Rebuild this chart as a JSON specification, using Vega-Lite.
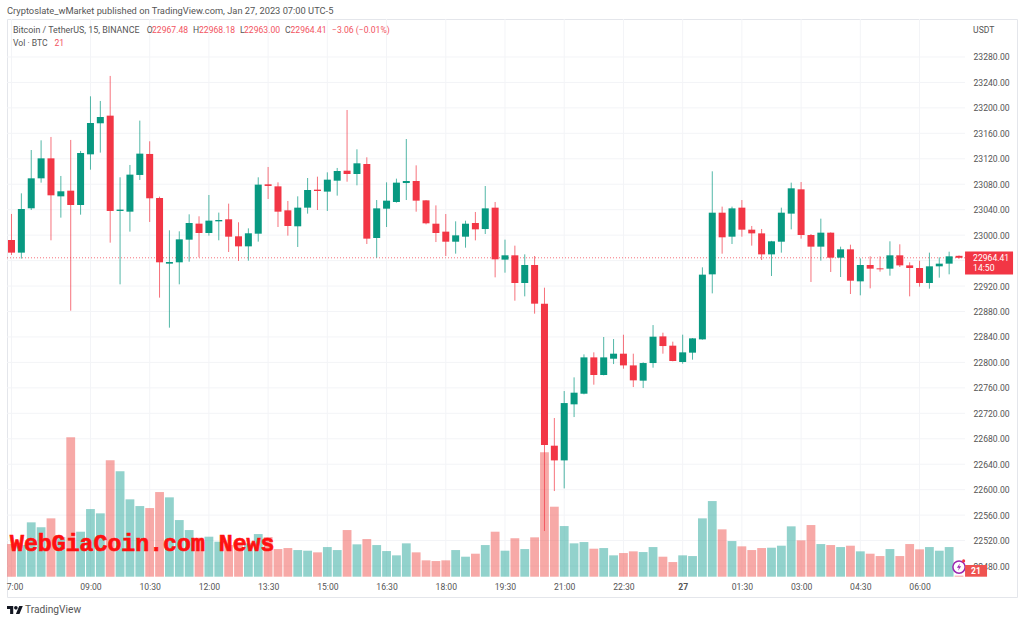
{
"$schema":"https://vega.github.io/schema/vega-lite/v6.json",
"width":1010,"height":578,"autosize":{"type":"none"},
"padding":{"left":7,"top":19,"right":7,"bottom":26},
"background":"#ffffff",
"view":{"stroke":"#e4e6eb"},
"title":{"text":"Cryptoslate_wMarket published on TradingView.com, Jan 27, 2023 07:00 UTC-5","anchor":"start","frame":"group","font":"Roboto","fontSize":9.3,"fontWeight":"normal","color":"#555555","offset":2},
"config":{"text":{"font":"Roboto","fontSize":8.6,"align":"left","baseline":"middle","color":"#555555"}},
"datasets":{
"candles":[
{"t":"2023-01-26T07:00:00Z","o":22992.4,"h":23033.3,"l":22968.8,"c":22972.5,"v":653},
{"t":"2023-01-26T07:15:00Z","o":22972.5,"h":23065.7,"l":22963.1,"c":23041.1,"v":633},
{"t":"2023-01-26T07:30:00Z","o":23042.2,"h":23133.8,"l":23039.5,"c":23089.3,"v":1087},
{"t":"2023-01-26T07:45:00Z","o":23089.3,"h":23149.0,"l":23082.5,"c":23120.7,"v":987},
{"t":"2023-01-26T08:00:00Z","o":23120.7,"h":23154.3,"l":22991.9,"c":23062.6,"v":1167},
{"t":"2023-01-26T08:15:00Z","o":23061.0,"h":23093.0,"l":23027.5,"c":23068.9,"v":793},
{"t":"2023-01-26T08:30:00Z","o":23069.9,"h":23149.6,"l":22881.3,"c":23047.4,"v":2787},
{"t":"2023-01-26T08:45:00Z","o":23047.4,"h":23132.3,"l":23032.2,"c":23129.1,"v":900},
{"t":"2023-01-26T09:00:00Z","o":23127.0,"h":23218.2,"l":23102.9,"c":23176.3,"v":1353},
{"t":"2023-01-26T09:15:00Z","o":23175.8,"h":23210.9,"l":23129.7,"c":23185.7,"v":1267},
{"t":"2023-01-26T09:30:00Z","o":23187.8,"h":23250.2,"l":22988.2,"c":23038.0,"v":2327},
{"t":"2023-01-26T09:45:00Z","o":23038.0,"h":23090.9,"l":22922.7,"c":23040.1,"v":2107},
{"t":"2023-01-26T10:00:00Z","o":23036.9,"h":23110.3,"l":23005.5,"c":23095.1,"v":1547},
{"t":"2023-01-26T10:15:00Z","o":23094.6,"h":23180.0,"l":23086.7,"c":23128.1,"v":1413},
{"t":"2023-01-26T10:30:00Z","o":23127.6,"h":23147.5,"l":23020.7,"c":23057.9,"v":1373},
{"t":"2023-01-26T10:45:00Z","o":23058.4,"h":23060.5,"l":22901.8,"c":22957.3,"v":1693},
{"t":"2023-01-26T11:00:00Z","o":22955.2,"h":23007.6,"l":22854.6,"c":22957.8,"v":1587},
{"t":"2023-01-26T11:15:00Z","o":22957.3,"h":23006.0,"l":22922.7,"c":22993.4,"v":1133},
{"t":"2023-01-26T11:30:00Z","o":22992.9,"h":23032.7,"l":22958.3,"c":23019.1,"v":933},
{"t":"2023-01-26T11:45:00Z","o":23018.1,"h":23029.6,"l":22965.2,"c":23003.4,"v":780},
{"t":"2023-01-26T12:00:00Z","o":23003.4,"h":23063.1,"l":22999.2,"c":23022.8,"v":800},
{"t":"2023-01-26T12:15:00Z","o":23021.7,"h":23035.4,"l":22991.9,"c":23023.8,"v":700},
{"t":"2023-01-26T12:30:00Z","o":23024.9,"h":23049.5,"l":22973.5,"c":22997.6,"v":633},
{"t":"2023-01-26T12:45:00Z","o":22998.2,"h":23020.2,"l":22959.4,"c":22982.4,"v":633},
{"t":"2023-01-26T13:00:00Z","o":22982.4,"h":23010.7,"l":22959.9,"c":23002.9,"v":667},
{"t":"2023-01-26T13:15:00Z","o":23002.3,"h":23090.9,"l":22989.8,"c":23079.4,"v":853},
{"t":"2023-01-26T13:30:00Z","o":23079.9,"h":23107.1,"l":23056.8,"c":23077.3,"v":793},
{"t":"2023-01-26T13:45:00Z","o":23076.7,"h":23083.0,"l":23012.8,"c":23036.9,"v":553},
{"t":"2023-01-26T14:00:00Z","o":23039.0,"h":23053.7,"l":22999.2,"c":23014.4,"v":573},
{"t":"2023-01-26T14:15:00Z","o":23013.9,"h":23061.0,"l":22981.4,"c":23043.2,"v":533},
{"t":"2023-01-26T14:30:00Z","o":23043.2,"h":23089.8,"l":23033.8,"c":23071.0,"v":520},
{"t":"2023-01-26T14:45:00Z","o":23071.5,"h":23091.9,"l":23039.5,"c":23069.4,"v":487},
{"t":"2023-01-26T15:00:00Z","o":23068.4,"h":23098.7,"l":23038.0,"c":23087.2,"v":593},
{"t":"2023-01-26T15:15:00Z","o":23085.6,"h":23105.6,"l":23062.1,"c":23100.8,"v":533},
{"t":"2023-01-26T15:30:00Z","o":23101.3,"h":23196.7,"l":23084.0,"c":23096.1,"v":933},
{"t":"2023-01-26T15:45:00Z","o":23096.1,"h":23134.9,"l":23078.3,"c":23112.9,"v":647},
{"t":"2023-01-26T16:00:00Z","o":23111.8,"h":23122.3,"l":22986.1,"c":22994.5,"v":753},
{"t":"2023-01-26T16:15:00Z","o":22995.5,"h":23055.2,"l":22964.6,"c":23042.1,"v":633},
{"t":"2023-01-26T16:30:00Z","o":23041.6,"h":23083.0,"l":23012.8,"c":23054.2,"v":513},
{"t":"2023-01-26T16:45:00Z","o":23052.1,"h":23088.8,"l":23051.0,"c":23082.5,"v":427},
{"t":"2023-01-26T17:00:00Z","o":23081.9,"h":23151.1,"l":23055.2,"c":23085.1,"v":667},
{"t":"2023-01-26T17:15:00Z","o":23085.1,"h":23109.7,"l":23036.9,"c":23054.2,"v":487},
{"t":"2023-01-26T17:30:00Z","o":23054.7,"h":23055.2,"l":23017.0,"c":23018.6,"v":327},
{"t":"2023-01-26T17:45:00Z","o":23018.0,"h":23046.8,"l":22989.2,"c":23003.4,"v":313},
{"t":"2023-01-26T18:00:00Z","o":23005.5,"h":23033.2,"l":22967.2,"c":22989.7,"v":327},
{"t":"2023-01-26T18:15:00Z","o":22989.7,"h":23021.7,"l":22970.9,"c":22999.7,"v":533},
{"t":"2023-01-26T18:30:00Z","o":22997.6,"h":23022.7,"l":22980.3,"c":23018.0,"v":400},
{"t":"2023-01-26T18:45:00Z","o":23019.1,"h":23036.4,"l":22991.8,"c":23009.1,"v":460},
{"t":"2023-01-26T19:00:00Z","o":23009.6,"h":23077.2,"l":23001.8,"c":23042.1,"v":633},
{"t":"2023-01-26T19:15:00Z","o":23043.2,"h":23052.1,"l":22933.7,"c":22962.0,"v":900},
{"t":"2023-01-26T19:30:00Z","o":22961.5,"h":22992.9,"l":22941.0,"c":22968.3,"v":520},
{"t":"2023-01-26T19:45:00Z","o":22968.3,"h":22983.5,"l":22897.0,"c":22924.8,"v":767},
{"t":"2023-01-26T20:00:00Z","o":22924.8,"h":22969.8,"l":22903.8,"c":22953.1,"v":553},
{"t":"2023-01-26T20:15:00Z","o":22953.1,"h":22967.2,"l":22876.6,"c":22892.3,"v":787},
{"t":"2023-01-26T20:30:00Z","o":22892.3,"h":22917.4,"l":22535.0,"c":22670.2,"v":2487},
{"t":"2023-01-26T20:45:00Z","o":22669.1,"h":22712.6,"l":22597.8,"c":22646.0,"v":1400},
{"t":"2023-01-26T21:00:00Z","o":22646.0,"h":22755.0,"l":22602.0,"c":22736.1,"v":1013},
{"t":"2023-01-26T21:15:00Z","o":22734.1,"h":22776.5,"l":22714.1,"c":22752.4,"v":667},
{"t":"2023-01-26T21:30:00Z","o":22750.8,"h":22812.6,"l":22749.8,"c":22807.9,"v":693},
{"t":"2023-01-26T21:45:00Z","o":22807.9,"h":22815.8,"l":22765.0,"c":22780.2,"v":560},
{"t":"2023-01-26T22:00:00Z","o":22780.2,"h":22839.9,"l":22779.6,"c":22807.9,"v":573},
{"t":"2023-01-26T22:15:00Z","o":22805.8,"h":22836.7,"l":22797.4,"c":22813.7,"v":427},
{"t":"2023-01-26T22:30:00Z","o":22813.7,"h":22843.5,"l":22790.1,"c":22795.3,"v":473},
{"t":"2023-01-26T22:45:00Z","o":22795.3,"h":22813.7,"l":22761.3,"c":22771.8,"v":507},
{"t":"2023-01-26T23:00:00Z","o":22771.3,"h":22800.1,"l":22759.7,"c":22799.0,"v":493},
{"t":"2023-01-26T23:15:00Z","o":22799.0,"h":22858.7,"l":22791.7,"c":22840.4,"v":593},
{"t":"2023-01-26T23:30:00Z","o":22840.9,"h":22846.7,"l":22813.7,"c":22825.7,"v":400},
{"t":"2023-01-26T23:45:00Z","o":22826.3,"h":22832.6,"l":22801.7,"c":22802.2,"v":293},
{"t":"2023-01-27T00:00:00Z","o":22800.6,"h":22843.6,"l":22798.0,"c":22815.8,"v":427},
{"t":"2023-01-27T00:15:00Z","o":22815.3,"h":22838.3,"l":22804.3,"c":22837.8,"v":413},
{"t":"2023-01-27T00:30:00Z","o":22836.2,"h":22949.4,"l":22835.7,"c":22937.9,"v":1167},
{"t":"2023-01-27T00:45:00Z","o":22938.4,"h":23100.3,"l":22908.5,"c":23035.3,"v":1513},
{"t":"2023-01-27T01:00:00Z","o":23035.3,"h":23044.8,"l":22970.9,"c":22996.6,"v":947},
{"t":"2023-01-27T01:15:00Z","o":22997.6,"h":23044.8,"l":22986.1,"c":23042.1,"v":713},
{"t":"2023-01-27T01:30:00Z","o":23043.2,"h":23055.2,"l":22997.6,"c":23008.6,"v":607},
{"t":"2023-01-27T01:45:00Z","o":23008.6,"h":23014.4,"l":22983.5,"c":23002.8,"v":533},
{"t":"2023-01-27T02:00:00Z","o":23002.8,"h":23009.7,"l":22960.9,"c":22969.8,"v":573},
{"t":"2023-01-27T02:15:00Z","o":22969.8,"h":22991.0,"l":22935.8,"c":22990.3,"v":580},
{"t":"2023-01-27T02:30:00Z","o":22989.7,"h":23043.2,"l":22972.5,"c":23035.3,"v":620},
{"t":"2023-01-27T02:45:00Z","o":23033.8,"h":23082.5,"l":23009.1,"c":23073.6,"v":1007},
{"t":"2023-01-27T03:00:00Z","o":23072.0,"h":23083.5,"l":22994.5,"c":23000.2,"v":727},
{"t":"2023-01-27T03:15:00Z","o":23000.2,"h":23001.8,"l":22926.4,"c":22981.9,"v":1033},
{"t":"2023-01-27T03:30:00Z","o":22981.9,"h":23025.9,"l":22959.9,"c":23003.9,"v":653},
{"t":"2023-01-27T03:45:00Z","o":23003.9,"h":23004.4,"l":22942.1,"c":22964.6,"v":633},
{"t":"2023-01-27T04:00:00Z","o":22964.6,"h":22981.9,"l":22934.2,"c":22977.7,"v":593},
{"t":"2023-01-27T04:15:00Z","o":22977.7,"h":22985.0,"l":22907.5,"c":22928.4,"v":620},
{"t":"2023-01-27T04:30:00Z","o":22927.4,"h":22963.5,"l":22905.4,"c":22953.1,"v":507},
{"t":"2023-01-27T04:45:00Z","o":22953.1,"h":22966.7,"l":22916.4,"c":22947.3,"v":460},
{"t":"2023-01-27T05:00:00Z","o":22947.8,"h":22966.7,"l":22942.6,"c":22946.3,"v":413},
{"t":"2023-01-27T05:15:00Z","o":22947.3,"h":22990.3,"l":22936.3,"c":22968.3,"v":553},
{"t":"2023-01-27T05:30:00Z","o":22968.3,"h":22985.6,"l":22949.9,"c":22952.5,"v":413},
{"t":"2023-01-27T05:45:00Z","o":22952.5,"h":22957.3,"l":22903.8,"c":22948.4,"v":653},
{"t":"2023-01-27T06:00:00Z","o":22948.4,"h":22959.9,"l":22919.0,"c":22924.8,"v":547},
{"t":"2023-01-27T06:15:00Z","o":22924.8,"h":22972.5,"l":22915.9,"c":22951.0,"v":593},
{"t":"2023-01-27T06:30:00Z","o":22951.0,"h":22965.1,"l":22933.2,"c":22955.2,"v":520},
{"t":"2023-01-27T06:45:00Z","o":22955.2,"h":22974.0,"l":22938.4,"c":22966.7,"v":593},
{"t":"2023-01-27T07:00:00Z","o":22967.48,"h":22968.18,"l":22963.0,"c":22964.41,"v":21}
],
"priceGrid":[{"p":23280},{"p":23240},{"p":23200},{"p":23160},{"p":23120},{"p":23080},{"p":23040},{"p":23000},{"p":22960},{"p":22920},{"p":22880},{"p":22840},{"p":22800},{"p":22760},{"p":22720},{"p":22680},{"p":22640},{"p":22600},{"p":22560},{"p":22520},{"p":22480}],
"timeGrid":[{"t":"2023-01-26T07:00:00Z"},{"t":"2023-01-26T09:00:00Z"},{"t":"2023-01-26T10:30:00Z"},{"t":"2023-01-26T12:00:00Z"},{"t":"2023-01-26T13:30:00Z"},{"t":"2023-01-26T15:00:00Z"},{"t":"2023-01-26T16:30:00Z"},{"t":"2023-01-26T18:00:00Z"},{"t":"2023-01-26T19:30:00Z"},{"t":"2023-01-26T21:00:00Z"},{"t":"2023-01-26T22:30:00Z"},{"t":"2023-01-27T00:00:00Z"},{"t":"2023-01-27T01:30:00Z"},{"t":"2023-01-27T03:00:00Z"},{"t":"2023-01-27T04:30:00Z"},{"t":"2023-01-27T06:00:00Z"}]
},
"resolve":{"scale":{"y":"independent"}},
"layer":[
{"layer":[
 {"data":{"name":"priceGrid"},"mark":{"type":"rule","color":"#f3f4f7","strokeWidth":1},
  "encoding":{
   "x":{"datum":1674715990000,"type":"temporal","title":null,"scale":{"type":"utc","nice":false,"padding":0,"domain":[1674715990000,1674808087000]}},
   "x2":{"datum":1674803350000},
   "y":{"field":"p","type":"quantitative","title":null,"scale":{"nice":false,"zero":false,"domain":[22431.3,23339.7]},
    "axis":{"orient":"right","offset":-50,"tickCount":40,"values":[23280,23240,23200,23160,23120,23080,23040,23000,22920,22880,22840,22800,22760,22720,22680,22640,22600,22560,22520,22480],"format":".2f","domain":false,"ticks":false,"grid":false,"labelPadding":6,"labelFont":"Roboto","labelFontSize":8.6,"labelColor":"#555555","labelOverlap":false,"labelBound":false,"title":null}}}},
 {"data":{"name":"timeGrid"},"mark":{"type":"rule","color":"#f3f4f7","strokeWidth":1},
  "encoding":{
   "x":{"field":"t","type":"temporal","title":null,"scale":{"type":"utc","nice":false,"padding":0,"domain":[1674715990000,1674808087000]},
    "axis":{"orient":"bottom","offset":-20,"title":null,"tickCount":40,"values":[1674716400000,1674723600000,1674729000000,1674734400000,1674739800000,1674745200000,1674750600000,1674756000000,1674761400000,1674766800000,1674772200000,1674777600000,1674783000000,1674788400000,1674793800000,1674799200000],
    "labelExpr":"utchours(datum.value)==0 ? '27' : utchours(datum.value)==7 ? '7:00' : utcFormat(datum.value,'%H:%M')",
    "labelOffset":{"condition":{"test":"utchours(datum.value)==7","value":3},"value":0},
    "labelFontWeight":{"condition":{"test":"utchours(datum.value)==0","value":"bold"},"value":"normal"},
    "domain":false,"ticks":false,"grid":false,"labelPadding":5,"labelFont":"Roboto","labelFontSize":8.6,"labelColor":"#555555","labelOverlap":false}},
   "y":{"datum":23339.7,"type":"quantitative"},"y2":{"datum":22463.2}}}
]},
{"data":{"name":"candles"},"mark":{"type":"bar","size":8.8,"opacity":0.5},
 "encoding":{
  "x":{"field":"t","type":"temporal","title":null,"scale":{"type":"utc","nice":false,"padding":0,"domain":[1674715990000,1674808087000]}},
  "y":{"field":"v","type":"quantitative","stack":false,"title":null,"axis":null,"scale":{"nice":false,"domain":[0,11154],"range":[557.7,0]}},
  "color":{"condition":{"test":"datum.c>=datum.o","value":"#26a69a"},"value":"#ef5350"}}},
{"layer":[
 {"data":{"values":[{"label":"last"}]},"mark":{"type":"rule","color":"#f23645","strokeDash":[1,2],"strokeWidth":1,"opacity":0.7},
  "encoding":{"x":{"datum":1674715990000,"type":"temporal","title":null,"scale":{"type":"utc","nice":false,"padding":0,"domain":[1674715990000,1674808087000]}},"x2":{"datum":1674803350000},
   "y":{"datum":22964.41,"type":"quantitative","title":null,"axis":null,"scale":{"nice":false,"zero":false,"domain":[22431.3,23339.7]}}}},
 {"data":{"name":"candles"},"mark":{"type":"rule","strokeWidth":1,"opacity":0.7},
  "encoding":{"x":{"field":"t","type":"temporal","title":null},"y":{"field":"l","type":"quantitative","title":null,"axis":null},"y2":{"field":"h"},
   "color":{"condition":{"test":"datum.c>=datum.o","value":"#089981"},"value":"#f23645"}}},
 {"data":{"name":"candles"},"mark":{"type":"bar","size":7},
  "encoding":{"x":{"field":"t","type":"temporal","title":null},"y":{"field":"o","type":"quantitative","title":null,"axis":null},"y2":{"field":"c"},
   "color":{"condition":{"test":"datum.c>=datum.o","value":"#089981"},"value":"#f23645"}}},
 {"data":{"values":[{"label":"price box"}]},"mark":{"type":"rect","color":"#f23645"},
  "encoding":{"x":{"datum":1674803350000,"type":"temporal","title":null},"x2":{"datum":1674807727000},"y":{"datum":22974.3,"type":"quantitative","title":null,"axis":null},"y2":{"datum":22938.2}}},
 {"data":{"values":[{"label":"22964.41"}]},"mark":{"type":"text","color":"#ffffff"},
  "encoding":{"x":{"datum":1674804080000,"type":"temporal","title":null},"y":{"datum":22964.4,"type":"quantitative","title":null,"axis":null},"text":{"field":"label"}}},
 {"data":{"values":[{"label":"14:50"}]},"mark":{"type":"text","color":"#ffffff"},
  "encoding":{"x":{"datum":1674804080000,"type":"temporal","title":null},"y":{"datum":22948.4,"type":"quantitative","title":null,"axis":null},"text":{"field":"label"}}},
 {"data":{"values":[{"label":"Bitcoin / TetherUS, 15, BINANCE"}]},"mark":{"type":"text","fontSize":8.9},
  "encoding":{"x":{"datum":1674716537000,"type":"temporal","title":null},"y":{"datum":23322.4,"type":"quantitative","title":null,"axis":null},"text":{"field":"label"}}},
 {"data":{"values":[{"label":"O"}]},"mark":{"type":"text"},
  "encoding":{"x":{"datum":1674728729000,"type":"temporal","title":null},"y":{"datum":23322.4,"type":"quantitative","title":null,"axis":null},"text":{"field":"label"}}},
 {"data":{"values":[{"label":"22967.48"}]},"mark":{"type":"text","color":"#f2545f"},
  "encoding":{"x":{"datum":1674729213000,"type":"temporal","title":null},"y":{"datum":23322.4,"type":"quantitative","title":null,"axis":null},"text":{"field":"label"}}},
 {"data":{"values":[{"label":"H"}]},"mark":{"type":"text"},
  "encoding":{"x":{"datum":1674732951000,"type":"temporal","title":null},"y":{"datum":23322.4,"type":"quantitative","title":null,"axis":null},"text":{"field":"label"}}},
 {"data":{"values":[{"label":"22968.18"}]},"mark":{"type":"text","color":"#f2545f"},
  "encoding":{"x":{"datum":1674733498000,"type":"temporal","title":null},"y":{"datum":23322.4,"type":"quantitative","title":null,"axis":null},"text":{"field":"label"}}},
 {"data":{"values":[{"label":"L"}]},"mark":{"type":"text"},
  "encoding":{"x":{"datum":1674737237000,"type":"temporal","title":null},"y":{"datum":23322.4,"type":"quantitative","title":null,"axis":null},"text":{"field":"label"}}},
 {"data":{"values":[{"label":"22963.00"}]},"mark":{"type":"text","color":"#f2545f"},
  "encoding":{"x":{"datum":1674737602000,"type":"temporal","title":null},"y":{"datum":23322.4,"type":"quantitative","title":null,"axis":null},"text":{"field":"label"}}},
 {"data":{"values":[{"label":"C"}]},"mark":{"type":"text"},
  "encoding":{"x":{"datum":1674741341000,"type":"temporal","title":null},"y":{"datum":23322.4,"type":"quantitative","title":null,"axis":null},"text":{"field":"label"}}},
 {"data":{"values":[{"label":"22964.41"}]},"mark":{"type":"text","color":"#f2545f"},
  "encoding":{"x":{"datum":1674741842000,"type":"temporal","title":null},"y":{"datum":23322.4,"type":"quantitative","title":null,"axis":null},"text":{"field":"label"}}},
 {"data":{"values":[{"label":"−3.06 (−0.01%)"}]},"mark":{"type":"text","color":"#f2545f"},
  "encoding":{"x":{"datum":1674745627000,"type":"temporal","title":null},"y":{"datum":23322.4,"type":"quantitative","title":null,"axis":null},"text":{"field":"label"}}},
 {"data":{"values":[{"label":"Vol · BTC"}]},"mark":{"type":"text"},
  "encoding":{"x":{"datum":1674716537000,"type":"temporal","title":null},"y":{"datum":23302,"type":"quantitative","title":null,"axis":null},"text":{"field":"label"}}},
 {"data":{"values":[{"label":"21"}]},"mark":{"type":"text","color":"#f2545f"},
  "encoding":{"x":{"datum":1674720322000,"type":"temporal","title":null},"y":{"datum":23302,"type":"quantitative","title":null,"axis":null},"text":{"field":"label"}}},
 {"data":{"values":[{"label":"USDT"}]},"mark":{"type":"text"},
  "encoding":{"x":{"datum":1674804080000,"type":"temporal","title":null},"y":{"datum":23322.4,"type":"quantitative","title":null,"axis":null},"text":{"field":"label"}}},
 {"data":{"values":[{"label":"WebGiaCoin.com News"}]},"mark":{"type":"text","color":"#ff1010","stroke":"#ff1010","strokeWidth":0.7,"font":"Liberation Mono","fontWeight":"bold","fontSize":23.2},
  "encoding":{"x":{"datum":1674716264000,"type":"temporal","title":null},"y":{"datum":22514.6,"type":"quantitative","title":null,"axis":null},"text":{"field":"label"}}},
 {"data":{"values":[{"label":"alert"}]},"mark":{"type":"point","filled":true,"fill":"#ffffff","stroke":"#9c27b0","strokeWidth":1.5,"size":150,"shape":"circle","opacity":1},
  "encoding":{"x":{"datum":1674802800000,"type":"temporal","title":null},"y":{"datum":22478.4,"type":"quantitative","title":null,"axis":null}}},
 {"data":{"values":[{"label":"alert bolt"}]},"mark":{"type":"point","filled":true,"fill":"#9c27b0","strokeWidth":0,"size":90,"shape":"M0.2,-0.8 L-0.45,0.15 L-0.02,0.15 L-0.2,0.8 L0.45,-0.15 L0.02,-0.15 Z","opacity":1},
  "encoding":{"x":{"datum":1674802800000,"type":"temporal","title":null},"y":{"datum":22478.4,"type":"quantitative","title":null,"axis":null}}},
 {"data":{"values":[{"label":"alert dot"}]},"mark":{"type":"point","filled":true,"fill":"#f23645","strokeWidth":0,"size":10,"shape":"circle","opacity":1},
  "encoding":{"x":{"datum":1674803220000,"type":"temporal","title":null},"y":{"datum":22488,"type":"quantitative","title":null,"axis":null}}},
 {"data":{"values":[{"label":"volume box"}]},"mark":{"type":"rect","color":"#ef5350"},
  "encoding":{"x":{"datum":1674803350000,"type":"temporal","title":null},"x2":{"datum":1674805356000},"y":{"datum":22481.6,"type":"quantitative","title":null,"axis":null},"y2":{"datum":22463.2}}},
 {"data":{"values":[{"label":"21"}]},"mark":{"type":"text","color":"#ffffff","align":"center","fontWeight":"bold"},
  "encoding":{"x":{"datum":1674804353000,"type":"temporal","title":null},"y":{"datum":22472.1,"type":"quantitative","title":null,"axis":null},"text":{"field":"label"}}},
 {"data":{"values":[{"label":"TradingView logo"}]},"mark":{"type":"point","filled":true,"fill":"#131722","strokeWidth":0,"size":256,"opacity":1,"shape":"M-1,-0.5 L-0.222,-0.5 L-0.222,0.5 L-0.611,0.5 L-0.611,-0.111 L-1,-0.111 Z M0.556,0.5 L0.111,0.5 L0.528,-0.5 L0.972,-0.5 Z M-0.111,-0.278 A0.222,0.222 0 1,0 0.333,-0.278 A0.222,0.222 0 1,0 -0.111,-0.278 Z"},
  "encoding":{"x":{"datum":1674716720000,"type":"temporal","title":null},"y":{"datum":22410.9,"type":"quantitative","title":null,"axis":null}}},
 {"data":{"values":[{"label":"TradingView"}]},"mark":{"type":"text","fontSize":10.2},
  "encoding":{"x":{"datum":1674717631000,"type":"temporal","title":null},"y":{"datum":22410.9,"type":"quantitative","title":null,"axis":null},"text":{"field":"label"}}}
]}
]}
